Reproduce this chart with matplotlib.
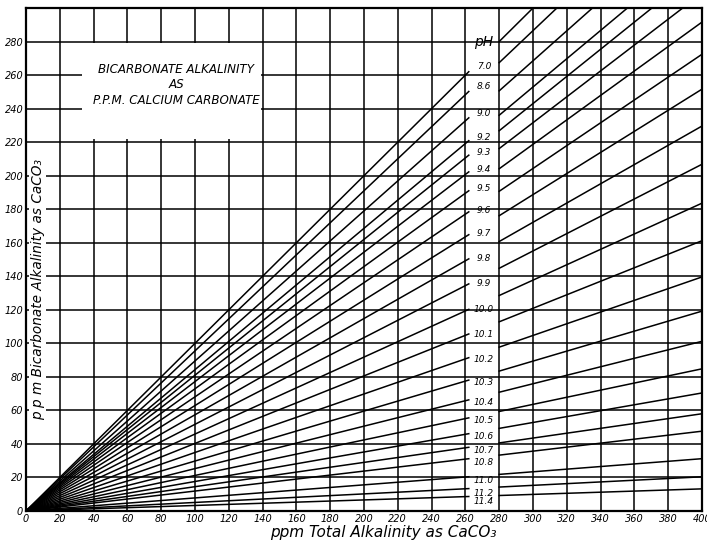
import numpy as np
import matplotlib
matplotlib.use('Agg')
import matplotlib.pyplot as plt
from matplotlib.patches import Rectangle

# pH lines: bicarbonate / total alkalinity ratio
ph_labels = ["7.0", "8.6", "9.0", "9.2", "9.3", "9.4", "9.5", "9.6", "9.7", "9.8",
             "9.9", "10.0", "10.1", "10.2", "10.3", "10.4", "10.5", "10.6", "10.7",
             "10.8", "11.0", "11.2", "11.4"]
slopes = [1.0, 0.955, 0.895, 0.843, 0.81, 0.772, 0.729, 0.681, 0.629, 0.574,
          0.517, 0.459, 0.403, 0.349, 0.298, 0.253, 0.212, 0.176, 0.145,
          0.119, 0.078, 0.051, 0.033]

x_ticks = list(range(0, 401, 20))
y_ticks = list(range(0, 281, 20))

title_lines = ["BICARBONATE ALKALINITY", "AS", "P.P.M. CALCIUM CARBONATE"]

fig = plt.figure(figsize=(7.07, 5.42), dpi=100, facecolor='white')
ax = fig.add_axes([26/707, 1 - 511/542, (702 - 26)/707, (511 - 8)/542])

x_left = np.array([0, 262])
x_right = np.array([280, 400])
for s in slopes:
    ax.plot(x_left, s * x_left, color='black', lw=1.1, zorder=2)
    ax.plot(x_right, s * x_right, color='black', lw=1.1, zorder=2)

ax.set_xlim(0, 400)
ax.set_ylim(0, 300)
ax.set_xticks(x_ticks)
ax.set_yticks(y_ticks)
ax.set_xticklabels([str(v) for v in x_ticks], fontsize=7, style='italic')
ax.set_yticklabels([str(v) for v in y_ticks], fontsize=7, style='italic')
ax.tick_params(length=0, pad=2)
ax.set_axisbelow(True)
ax.grid(True, color='black', lw=1.1)
for sp in ax.spines.values():
    sp.set_linewidth(1.6)

# title box (blanks the grid behind it)
ax.add_patch(Rectangle((33, 222), 106, 57, facecolor='white', edgecolor='none', zorder=1.5))
for i, t in enumerate(title_lines):
    ax.text(89, 263.5 - 9.3 * i, t, ha='center', va='center', fontsize=8.6,
            style='italic', zorder=3)

# pH labels in the gap column
ax.text(271, 280, "pH", ha='center', va='center', fontsize=10, style='italic', zorder=3)
for lab, s in zip(ph_labels, slopes):
    ax.text(271, s * 268 - 3, lab, ha='center', va='center', fontsize=6.5,
            style='italic', zorder=3)

ax.text(7, 132, "p p m Bicarbonate Alkalinity as CaCO\u2083", rotation=90,
        ha='center', va='center', fontsize=9.8, style='italic', zorder=3,
        bbox=dict(facecolor='white', edgecolor='none', pad=1))

fig.text(383/707, 1 - 532/542, "ppm Total Alkalinity as CaCO\u2083", ha='center',
         va='center', fontsize=11, style='italic')

plt.savefig("out.png", dpi=100)
plt.close()
